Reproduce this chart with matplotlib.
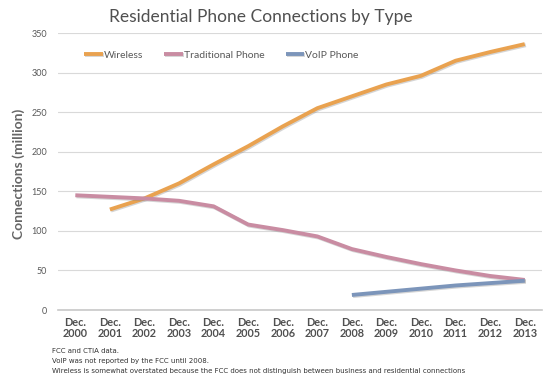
import numpy as np
import matplotlib
matplotlib.use('Agg')
import matplotlib.pyplot as plt
import matplotlib.patheffects as pe

plt.rcParams['font.family'] = ['Lato', 'DejaVu Sans']

# Data (million connections)
years = ['2000', '2001', '2002', '2003', '2004', '2005', '2006',
         '2007', '2008', '2009', '2010', '2011', '2012', '2013']
wireless = [None, 127, 141, 160, 184, 207, 232, 255, 270, 285, 296, 315, 326, 336]
traditional = [145, 143, 141, 138, 131, 108, 101, 93, 77, 67, 58, 50, 43, 38]
voip = [None, None, None, None, None, None, None, None, 19, 23, 27, 31, 34, 37]

series = [
    ('Wireless', wireless, '#E9A250'),
    ('Traditional Phone', traditional, '#C98CA2'),
    ('VoIP Phone', voip, '#7C95BA'),
]
notes = ['FCC and CTIA data.',
         'VoIP was not reported by the FCC until 2008.',
         'Wireless is somewhat overstated because the FCC does not distinguish between business and residential connections']

fig = plt.figure(figsize=(5.5, 3.84), dpi=100)
ax = fig.add_axes([0.1055, 0.1927, 0.88, 0.7213])

x = np.arange(len(years))
shadow = [pe.SimpleLineShadow(offset=(0.8, -0.8), shadow_color='#888888', alpha=0.35), pe.Normal()]
for name, vals, col in series:
    y = np.array([np.nan if v is None else v for v in vals], dtype=float)
    ax.plot(x, y, color=col, lw=2.8, label=name, solid_capstyle='butt',
            path_effects=shadow)

ax.set_xlim(-0.5, 13.5)
ax.set_ylim(0, 350)
ax.set_yticks(range(0, 351, 50))
ax.set_xticks(x)
ax.set_xticklabels(['Dec.\n' + yr for yr in years], fontsize=7.8, color='#505050',
                   fontweight='bold', linespacing=1.05)
ax.tick_params(axis='y', labelsize=6.5, labelcolor='#595959', length=0, pad=8)
ax.tick_params(axis='x', length=0, pad=5)
ax.grid(axis='y', color='#D9D9D9', lw=0.8)
ax.set_axisbelow(True)
for s in ['top', 'right', 'left']:
    ax.spines[s].set_visible(False)
ax.spines['bottom'].set_color('#C8C8C8')
ax.spines['bottom'].set_linewidth(1.2)

ax.set_ylabel('Connections (million)', fontsize=10, color='#666666', fontweight='bold')
ax.yaxis.set_label_coords(-0.068, 0.49)

leg = ax.legend(loc='upper left', bbox_to_anchor=(0.035, 0.97), ncol=3, frameon=False,
                fontsize=7.5, handlelength=1.8, handletextpad=0.1, columnspacing=2.0)
for t in leg.get_texts():
    t.set_color('#595959')

fig.text(0.474, 0.955, 'Residential Phone Connections by Type', ha='center', va='center',
         fontsize=12.5, color='#505050')

for i, n in enumerate(notes):
    fig.text(0.094, 0.086 - i * 0.026, n, fontsize=5.0, color='#333333', va='center',
             family='DejaVu Sans')

fig.savefig('out.png', dpi=100)
